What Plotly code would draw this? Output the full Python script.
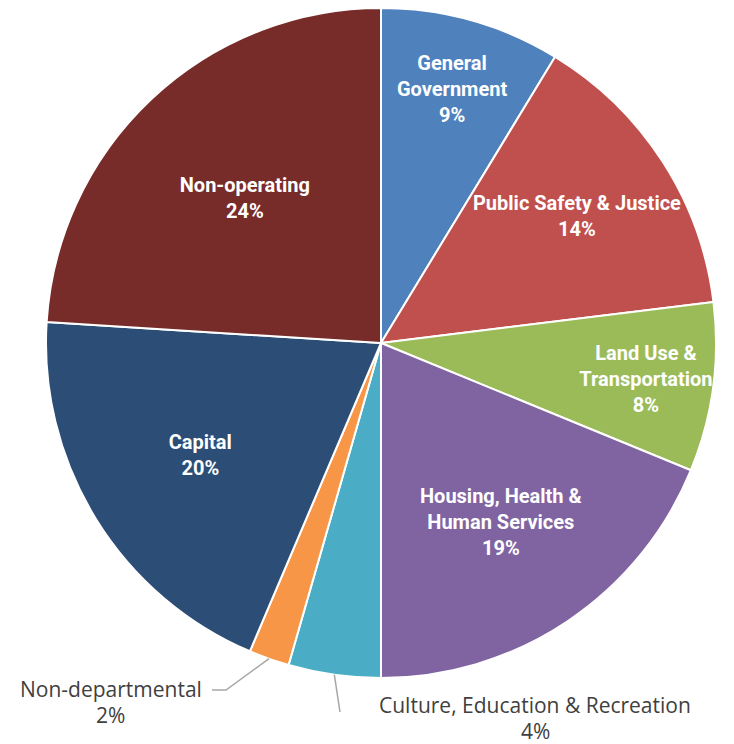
import math
import plotly.graph_objects as go

categories = ["General<br>Government", "Public Safety & Justice", "Land Use &<br>Transportation",
              "Housing, Health &<br>Human Services", "Culture, Education & Recreation",
              "Non-departmental", "Capital", "Non-operating"]
values = [8.7, 14.35, 8.15, 18.8, 4.45, 1.95, 19.6, 24.0]
colors = ["#4F81BD", "#C0504D", "#9BBB59", "#8064A2", "#4BACC6", "#F79646", "#2C4D75", "#772C2A"]
outside = ["Culture, Education & Recreation", "Non-departmental"]

# page body has an 8px margin; the figure fills the rest of the 734x744 window
OFF = 8
W, H = 734 - OFF, 744 - OFF
cx, cy, r = 381, 343, 335  # window pixels

templates = ["" if c in outside else "<b>%{label}<br>%{percent:.0%}</b>" for c in categories]

def px(x, y):
    return (x - OFF) / W, 1 - (y - OFF) / H

x0, y1 = px(cx - r, cy + r)
x1, y0 = px(cx + r, cy - r)

fig = go.Figure(go.Pie(
    labels=categories, values=values, sort=False, direction="clockwise", rotation=0,
    marker=dict(colors=colors, line=dict(color="white", width=2)),
    texttemplate=templates, textposition="inside", insidetextorientation="horizontal",
    textfont=dict(family="Roboto", size=20, color="white"),
    showlegend=False, hoverinfo="label+percent",
    domain=dict(x=[x0, x1], y=[y1, y0]),
))

total = sum(values)
pct = {c: f"{round(v / total * 100):.0f}%" for c, v in zip(categories, values)}
cum, mid = 0.0, {}
for c, v in zip(categories, values):
    mid[c] = (cum + v / 2) / total * 2 * math.pi
    cum += v

def edge(name):
    t = mid[name]
    return cx + r * math.sin(t), cy - r * math.cos(t)

ann, shapes = [], []
label_pos = {"Non-departmental": (111, 689, 715, [(226, 690), (212, 690)]),
             "Culture, Education & Recreation": (535, 705, 731, [(340, 712)])}
for name, (x, ya, yb, tail) in label_pos.items():
    for txt, yy in ((name, ya), (pct[name], yb)):
        ax, ay = px(x, yy)
        ann.append(dict(text=txt, x=ax, y=ay, xref="paper", yref="paper", showarrow=False,
                        xanchor="center", yanchor="middle",
                        font=dict(family="Open Sans", size=21, color="#404040")))
    pts = [edge(name)] + tail
    path = "M " + " L ".join(f"{px(a, b)[0]:.5f},{px(a, b)[1]:.5f}" for a, b in pts)
    shapes.append(dict(type="path", path=path, xref="paper", yref="paper",
                       line=dict(color="#A6A6A6", width=1.5)))

fig.update_layout(width=W, height=H, margin=dict(l=0, r=0, t=0, b=0),
                  paper_bgcolor="white", plot_bgcolor="white",
                  annotations=ann, shapes=shapes,
                  uniformtext=dict(minsize=20, mode="show"))
fig.write_html("out.html")
